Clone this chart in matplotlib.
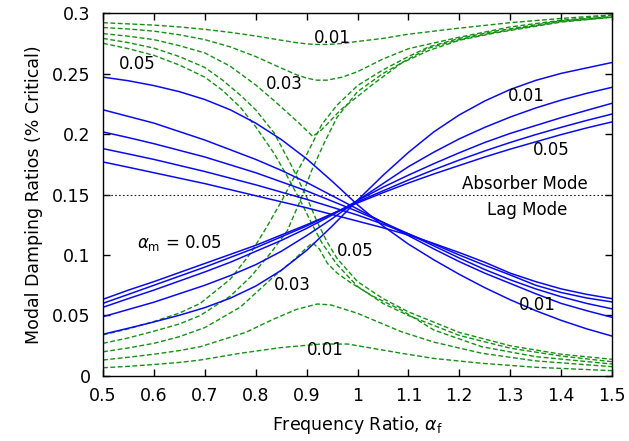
import matplotlib
matplotlib.use("Agg")
import matplotlib.pyplot as plt

plt.rcParams['font.family'] = ['DejaVu Sans']

# ---- Blue solid curves (absorber / lag modes), mass ratios 0.01..0.05 ----
bx = [0.5, 0.55, 0.6, 0.65, 0.7, 0.75, 0.8, 0.85, 0.9, 0.95, 1.0,
      1.05, 1.1, 1.15, 1.2, 1.25, 1.3, 1.35, 1.4, 1.45, 1.5]
blue_inc_1 = [0.0345, 0.0395, 0.0447, 0.0502, 0.0565, 0.0643, 0.0743, 0.0873, 0.1038, 0.1238, 0.1453,
              0.1658, 0.1848, 0.2018, 0.2158, 0.2273, 0.2368, 0.2443, 0.2501, 0.2546, 0.2591]
blue_inc_2 = [0.049, 0.055, 0.061, 0.068, 0.075, 0.083, 0.092, 0.103, 0.116, 0.130, 0.145,
              0.159, 0.173, 0.185, 0.196, 0.2055, 0.214, 0.2215, 0.228, 0.2336, 0.2386]
blue_inc_3 = [0.0568, 0.064, 0.071, 0.0785, 0.086, 0.094, 0.103, 0.112, 0.122, 0.133, 0.145,
              0.156, 0.166, 0.1755, 0.1845, 0.193, 0.2005, 0.207, 0.2135, 0.2195, 0.2254]
blue_inc_4 = [0.0601, 0.0675, 0.075, 0.0825, 0.090, 0.098, 0.106, 0.115, 0.124, 0.134, 0.144,
              0.153, 0.162, 0.1705, 0.1785, 0.186, 0.193, 0.1995, 0.2055, 0.2112, 0.2165]
blue_inc_5 = [0.0634, 0.071, 0.078, 0.0855, 0.093, 0.1005, 0.108, 0.1165, 0.125, 0.134, 0.143,
              0.1515, 0.1595, 0.167, 0.174, 0.181, 0.1875, 0.1935, 0.1995, 0.205, 0.210]
blue_dec_1 = [0.247, 0.244, 0.240, 0.235, 0.2285, 0.220, 0.209, 0.1955, 0.1795, 0.161, 0.1415,
              0.124, 0.109, 0.096, 0.084, 0.073, 0.063, 0.054, 0.046, 0.039, 0.033]
blue_dec_2 = [0.220, 0.2145, 0.209, 0.202, 0.195, 0.187, 0.179, 0.170, 0.160, 0.149, 0.138,
              0.127, 0.116, 0.105, 0.0945, 0.085, 0.0765, 0.068, 0.060, 0.054, 0.0485]
blue_dec_3 = [0.2017, 0.197, 0.192, 0.1865, 0.181, 0.1745, 0.168, 0.1605, 0.153, 0.1445, 0.136,
              0.127, 0.1175, 0.1075, 0.0975, 0.088, 0.0795, 0.072, 0.0655, 0.060, 0.0555]
blue_dec_4 = [0.1879, 0.1835, 0.179, 0.174, 0.169, 0.1635, 0.158, 0.152, 0.146, 0.1395, 0.133,
              0.1255, 0.1175, 0.109, 0.100, 0.0915, 0.0835, 0.075, 0.069, 0.0645, 0.0612]
blue_dec_5 = [0.1769, 0.1725, 0.168, 0.1635, 0.159, 0.154, 0.149, 0.144, 0.139, 0.1335, 0.128,
              0.1225, 0.1165, 0.1095, 0.102, 0.094, 0.085, 0.078, 0.072, 0.0675, 0.0639]

# ---- Green dashed curves ----
g_up1_x = [0.5, 0.55, 0.6, 0.65, 0.7, 0.75, 0.8, 0.85, 0.88, 0.9, 0.92, 0.94, 0.97, 1.0, 1.05, 1.1, 1.2, 1.3, 1.4, 1.5]
g_up1_y = [0.292, 0.291, 0.290, 0.2885, 0.2865, 0.284, 0.281, 0.2775, 0.2755, 0.2745, 0.274, 0.274, 0.2748, 0.2765, 0.279, 0.2825, 0.2875, 0.292, 0.2955, 0.2985]
g_up2_x = [0.5, 0.55, 0.6, 0.65, 0.7, 0.75, 0.8, 0.85, 0.88, 0.9, 0.92, 0.94, 0.97, 1.0, 1.05, 1.1, 1.2, 1.3, 1.4, 1.5]
g_up2_y = [0.288, 0.2868, 0.285, 0.282, 0.278, 0.272, 0.264, 0.2545, 0.249, 0.2462, 0.2445, 0.2445, 0.247, 0.2515, 0.262, 0.2705, 0.280, 0.2885, 0.294, 0.298]
g_up3_x = [0.5, 0.55, 0.6, 0.65, 0.7, 0.75, 0.8, 0.835, 0.885, 0.912, 0.928, 0.94, 0.967, 1.0, 1.033, 1.086, 1.14, 1.2, 1.27, 1.4, 1.5]
g_up3_y = [0.283, 0.2808, 0.278, 0.273, 0.267, 0.256, 0.2405, 0.228, 0.209, 0.198, 0.203, 0.208, 0.220, 0.231, 0.242, 0.2585, 0.269, 0.2775, 0.2835, 0.2925, 0.2965]
g_up4_x = [0.5, 0.55, 0.6, 0.65, 0.7, 0.735, 0.77, 0.8, 0.836, 0.87, 0.9, 0.92, 0.94, 0.96, 1.0, 1.05, 1.1, 1.2, 1.3, 1.4, 1.5]
g_up4_y = [0.279, 0.2755, 0.271, 0.264, 0.255, 0.2445, 0.232, 0.220, 0.201, 0.174, 0.148, 0.128, 0.111, 0.097, 0.078, 0.064, 0.053, 0.036, 0.025, 0.018, 0.0138]
g_up5_x = [0.5, 0.55, 0.6, 0.65, 0.7, 0.735, 0.77, 0.8, 0.836, 0.862, 0.89, 0.91, 0.93, 0.96, 1.0, 1.05, 1.1, 1.2, 1.3, 1.4, 1.5]
g_up5_y = [0.275, 0.2705, 0.265, 0.257, 0.247, 0.236, 0.222, 0.206, 0.184, 0.165, 0.143, 0.126, 0.110, 0.092, 0.074, 0.060, 0.050, 0.0335, 0.023, 0.0165, 0.0118]
g_lo5_x = [0.5, 0.55, 0.6, 0.65, 0.691, 0.75, 0.79, 0.82, 0.852, 0.87, 0.9, 0.93, 0.96, 1.0, 1.05, 1.1, 1.14, 1.2, 1.27, 1.4, 1.5]
g_lo5_y = [0.034, 0.039, 0.045, 0.052, 0.060, 0.080, 0.1015, 0.122, 0.1455, 0.160, 0.183, 0.208, 0.224, 0.240, 0.253, 0.264, 0.272, 0.279, 0.285, 0.2935, 0.297]
g_lo4_x = [0.5, 0.55, 0.6, 0.65, 0.691, 0.75, 0.79, 0.83, 0.862, 0.888, 0.91, 0.935, 0.96, 1.0, 1.05, 1.1, 1.14, 1.2, 1.27, 1.4, 1.5]
g_lo4_y = [0.027, 0.0315, 0.037, 0.043, 0.050, 0.066, 0.082, 0.102, 0.120, 0.1455, 0.170, 0.193, 0.214, 0.235, 0.250, 0.262, 0.271, 0.278, 0.284, 0.293, 0.2965]
g_lo3_x = [0.5, 0.55, 0.6, 0.65, 0.7, 0.77, 0.835, 0.875, 0.9, 0.912, 0.925, 0.941, 0.96, 0.987, 1.03, 1.086, 1.15, 1.244, 1.35, 1.5]
g_lo3_y = [0.020, 0.0232, 0.027, 0.0325, 0.040, 0.057, 0.082, 0.096, 0.106, 0.110, 0.105, 0.093, 0.085, 0.077, 0.066, 0.0545, 0.038, 0.0242, 0.016, 0.0099]
g_lo2_x = [0.5, 0.55, 0.6, 0.65, 0.691, 0.78, 0.835, 0.88, 0.921, 0.948, 1.0, 1.086, 1.15, 1.244, 1.35, 1.5]
g_lo2_y = [0.0132, 0.0155, 0.018, 0.021, 0.0242, 0.036, 0.047, 0.055, 0.0595, 0.0587, 0.0518, 0.0366, 0.028, 0.0188, 0.0125, 0.0077]
g_lo1_x = [0.5, 0.55, 0.6, 0.65, 0.691, 0.77, 0.85, 0.928, 0.981, 1.086, 1.15, 1.244, 1.35, 1.5]
g_lo1_y = [0.0068, 0.008, 0.0095, 0.0112, 0.0132, 0.0188, 0.0235, 0.0264, 0.0264, 0.0188, 0.0145, 0.0105, 0.0072, 0.0044]

xticks = [0.5, 0.6, 0.7, 0.8, 0.9, 1.0, 1.1, 1.2, 1.3, 1.4, 1.5]
xticklabels = ['0.5', '0.6', '0.7', '0.8', '0.9', '1', '1.1', '1.2', '1.3', '1.4', '1.5']
yticks = [0, 0.05, 0.1, 0.15, 0.2, 0.25, 0.3]
yticklabels = ['0', '0.05', '0.1', '0.15', '0.2', '0.25', '0.3']

annotations = [
    ('0.05', 0.567, 0.258), ('0.01', 0.950, 0.279), ('0.03', 0.856, 0.241),
    ('0.01', 1.331, 0.2317), ('0.05', 1.381, 0.187),
    ('Absorber Mode', 1.329, 0.159), ('Lag Mode', 1.334, 0.137),
    (r'$\alpha_{\rm m}$ = 0.05', 0.650, 0.110), ('0.05', 0.995, 0.1037),
    ('0.03', 0.872, 0.0752), ('0.01', 0.936, 0.0215), ('0.01', 1.353, 0.0583),
]
divider_y = 0.15

fig = plt.figure(figsize=(6.29, 4.41), dpi=100)
ax = fig.add_axes([0.1638, 0.1474, 0.8092, 0.8231])

green = '#159015'
blue = '#0a0af0'
dash = (0, (3.5, 1.8))

for gx, gy in [(g_up1_x, g_up1_y), (g_up2_x, g_up2_y), (g_up3_x, g_up3_y),
               (g_up4_x, g_up4_y), (g_up5_x, g_up5_y), (g_lo5_x, g_lo5_y),
               (g_lo4_x, g_lo4_y), (g_lo3_x, g_lo3_y), (g_lo2_x, g_lo2_y),
               (g_lo1_x, g_lo1_y)]:
    ax.plot(gx, gy, color=green, lw=1.0, linestyle=dash)

for by in [blue_inc_1, blue_inc_2, blue_inc_3, blue_inc_4, blue_inc_5,
           blue_dec_1, blue_dec_2, blue_dec_3, blue_dec_4, blue_dec_5]:
    ax.plot(bx, by, color=blue, lw=1.1)

ax.axhline(divider_y, color='#222222', lw=0.8, linestyle=(0, (1.5, 2.0)))

for txt, x, y in annotations:
    ax.text(x, y, txt, ha='center', va='center', fontsize=12)

ax.set_xlim(0.5, 1.5)
ax.set_ylim(0, 0.3)
ax.set_xticks(xticks)
ax.set_xticklabels(xticklabels)
ax.set_yticks(yticks)
ax.set_yticklabels(yticklabels)
ax.tick_params(direction='in', length=5, width=1, top=True, right=True,
               labelsize=12.5)
ax.tick_params(axis='x', pad=8)
ax.tick_params(axis='y', pad=9)
for s in ax.spines.values():
    s.set_linewidth(1.0)
ax.set_xlabel(r'Frequency Ratio, $\alpha_{\rm f}$', fontsize=12.5)
ax.set_ylabel('Modal Damping Ratios (% Critical)', fontsize=12.5)
ax.xaxis.set_label_coords(0.5, -0.105)
ax.yaxis.set_label_coords(-0.118, 0.5)

fig.savefig('out.png', dpi=100)
